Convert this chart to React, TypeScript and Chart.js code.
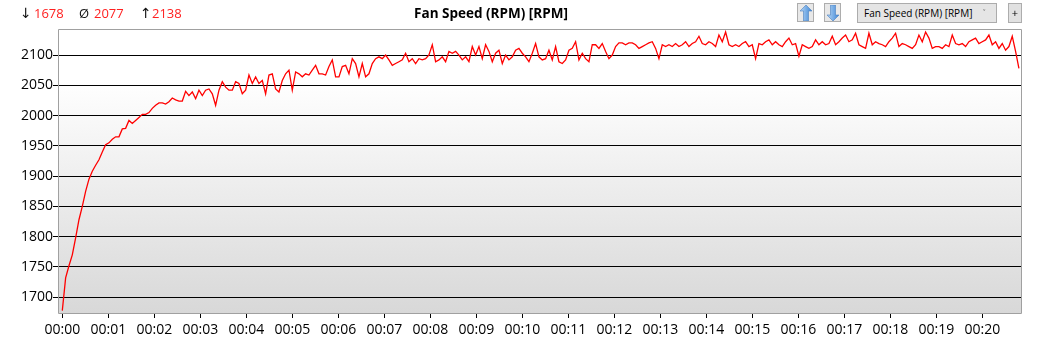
import React, { useEffect, useRef } from "react";
import { Chart, registerables } from "chart.js";

Chart.register(...registerables);

// time between two readings, in minutes
const SAMPLE_MINUTES = 0.07246;

const FAN_RPM: number[] = [
  // 00:00 - 00:02.7
  1678, 1732, 1752, 1770, 1798, 1828, 1850, 1875, 1895, 1908, 1918, 1927, 1940, 1952, 1955, 1961, 1965, 1965, 1978, 1979,
  1992, 1987, 1992, 1997, 2002, 2002, 2005, 2012, 2017, 2021, 2021, 2019, 2023, 2029, 2026, 2024, 2024, 2040,
  // 00:02.7 - 00:06.8
  2033, 2039, 2028, 2042, 2033, 2042, 2044, 2036, 2017, 2042, 2056, 2047, 2042, 2042, 2056, 2053, 2036, 2042, 2067, 2053,
  2064, 2053, 2058, 2036, 2067, 2069, 2044, 2039, 2058, 2069, 2075, 2042, 2072, 2069, 2064, 2069, 2067, 2075, 2083, 2069,
  2069, 2067, 2081, 2092, 2064, 2064, 2081, 2083, 2069, 2094, 2086, 2064, 2086, 2064, 2069, 2086, 2094,
  // 00:06.9 - 00:11.4
  2097, 2094, 2100, 2092, 2083, 2086, 2089, 2092, 2103, 2089, 2094, 2086, 2094, 2092, 2094, 2100, 2117, 2089, 2092, 2097,
  2089, 2106, 2103, 2106, 2100, 2092, 2097, 2089, 2114, 2100, 2114, 2094, 2117, 2106, 2089, 2103, 2108, 2086, 2100, 2092,
  2097, 2108, 2111, 2103, 2097, 2089, 2103, 2119, 2097, 2092, 2094, 2108, 2092, 2114, 2089, 2086, 2092, 2108, 2111, 2122,
  2092, 2103, 2094,
  // 00:11.4 - 00:16.0
  2089, 2117, 2117, 2111, 2119, 2106, 2094, 2100, 2114, 2120, 2120, 2117, 2120, 2120, 2117, 2111, 2114, 2117, 2120, 2122,
  2111, 2094, 2117, 2114, 2117, 2114, 2119, 2114, 2117, 2122, 2114, 2119, 2122, 2131, 2119, 2117, 2122, 2119, 2114, 2133,
  2122, 2138, 2117, 2114, 2117, 2114, 2119, 2122, 2114, 2117, 2094, 2119, 2117, 2122, 2125, 2117, 2122, 2117, 2114, 2122,
  2128, 2117, 2119, 2098,
  // 00:16.1 - 00:20.8
  2117, 2114, 2111, 2114, 2125, 2117, 2122, 2117, 2119, 2131, 2117, 2122, 2128, 2133, 2122, 2125, 2136, 2117, 2114, 2111,
  2136, 2117, 2122, 2119, 2117, 2114, 2122, 2128, 2136, 2114, 2119, 2117, 2114, 2111, 2117, 2133, 2122, 2138, 2128, 2111,
  2114, 2114, 2111, 2117, 2114, 2133, 2119, 2117, 2119, 2114, 2122, 2125, 2128, 2119, 2122, 2125, 2133, 2117, 2122, 2111,
  2119, 2108, 2114, 2131, 2106, 2078,
];

const Y_TICKS = [1700, 1750, 1800, 1850, 1900, 1950, 2000, 2050, 2100];
const X_TICKS = [0, 1, 2, 3, 4, 5, 6, 7, 8, 9, 10, 11, 12, 13, 14, 15, 16, 17, 18, 19, 20];
const Y_MIN = 1674;
const Y_MAX = 2143;
const X_MIN = -0.0935;
const X_MAX = 20.863;

const TITLE = "Fan Speed (RPM) [RPM]";
const STAT_SYMBOLS = ["↓", "Ø", "↑"];
const STAT_VALUES = [1678, 2077, 2138];

const FONT = "'Open Sans', 'Noto Sans', sans-serif";

const framePlugin = {
  id: "frame",
  beforeDraw(chart: any) {
    const { ctx, chartArea: a } = chart;
    const g = ctx.createLinearGradient(0, a.top, 0, a.bottom);
    g.addColorStop(0, "#ffffff");
    g.addColorStop(0.18, "#ffffff");
    g.addColorStop(1, "#d8d8d8");
    ctx.save();
    ctx.fillStyle = g;
    ctx.fillRect(a.left, a.top, a.right - a.left, a.bottom - a.top);
    ctx.restore();
  },
  afterDraw(chart: any) {
    const { ctx, chartArea: a } = chart;
    ctx.save();
    ctx.strokeStyle = "#a0a0a0";
    ctx.lineWidth = 1;
    ctx.beginPath();
    ctx.moveTo(a.left + 0.5, a.top + 0.5);
    ctx.lineTo(a.right - 0.5, a.top + 0.5);
    ctx.lineTo(a.right - 0.5, a.bottom + 0.5);
    ctx.lineTo(a.left + 0.5, a.bottom + 0.5);
    ctx.closePath();
    ctx.stroke();
    ctx.restore();
  },
};

function ArrowIcon({ up }: { up: boolean }) {
  const id = up ? "gu" : "gd";
  return (
    <svg width="12" height="16" viewBox="0 0 12 16" style={{ display: "block" }}>
      <defs>
        <linearGradient id={id} x1="0" y1="0" x2="1" y2="0">
          <stop offset="0" stopColor="#b9d8f6" />
          <stop offset="1" stopColor="#3d86d6" />
        </linearGradient>
      </defs>
      <path
        d={up ? "M6 0 L12 6 L8.5 6 L8.5 16 L3.5 16 L3.5 6 L0 6 Z" : "M6 16 L12 10 L8.5 10 L8.5 0 L3.5 0 L3.5 10 L0 10 Z"}
        fill={`url(#${id})`}
        stroke="#4a7fc0"
        strokeWidth="0.6"
      />
    </svg>
  );
}

export default function App() {
  const canvasRef = useRef<HTMLCanvasElement | null>(null);

  useEffect(() => {
    const points = FAN_RPM.map((v, i) => ({ x: i * SAMPLE_MINUTES, y: v }));
    const chart = new Chart(canvasRef.current as HTMLCanvasElement, {
      type: "line",
      data: {
        datasets: [
          {
            data: points,
            borderColor: "#ff0000",
            borderWidth: 1.3,
            pointRadius: 0,
            tension: 0,
            fill: false,
          },
        ],
      },
      options: {
        animation: false,
        responsive: false,
        maintainAspectRatio: false,
        layout: { padding: { top: 29, right: 19, left: 0, bottom: 0 } },
        plugins: { legend: { display: false }, tooltip: { enabled: false }, title: { display: false } },
        scales: {
          x: {
            type: "linear",
            min: X_MIN,
            max: X_MAX,
            afterBuildTicks: (axis: any) => {
              axis.ticks = X_TICKS.map((v) => ({ value: v }));
            },
            afterFit: (scale: any) => {
              scale.height = 40;
            },
            grid: { drawOnChartArea: false, drawTicks: true, tickLength: 5, tickColor: "#000000", color: "#000000" },
            border: { display: false },
            ticks: {
              autoSkip: false,
              maxRotation: 0,
              padding: 4,
              color: "#000000",
              font: { family: FONT, size: 14 },
              callback: (v: any) => "00:" + String(v).padStart(2, "0"),
            },
          },
          y: {
            type: "linear",
            min: Y_MIN,
            max: Y_MAX,
            afterBuildTicks: (axis: any) => {
              axis.ticks = Y_TICKS.map((v) => ({ value: v }));
            },
            afterFit: (scale: any) => {
              scale.width = 58;
            },
            grid: { drawOnChartArea: true, drawTicks: true, tickLength: 5, tickColor: "#000000", color: "#000000", lineWidth: 1 },
            border: { display: false },
            ticks: {
              padding: 0,
              color: "#000000",
              font: { family: FONT, size: 14 },
              callback: (v: any) => String(v),
            },
          },
        },
      },
      plugins: [framePlugin],
    });
    return () => chart.destroy();
  }, []);

  const statLefts = [[20, 34], [79, 94], [140, 152]];

  return (
    <div style={{ position: "absolute", left: 0, top: 0, width: 1041, height: 353, background: "#ffffff", fontFamily: FONT }}>
      <canvas ref={canvasRef} width={1041} height={353} style={{ position: "absolute", left: 0, top: 0, width: 1041, height: 353 }} />
      {STAT_SYMBOLS.map((s, i) => (
        <React.Fragment key={s}>
          <span style={{ position: "absolute", left: statLefts[i][0], top: 4, fontSize: i === 1 ? 13 : 14, lineHeight: "18px", color: "#111", fontFamily: i === 1 ? FONT : "'DejaVu Sans', sans-serif" }}>{s}</span>
          <span style={{ position: "absolute", left: statLefts[i][1], top: 4, fontSize: 13, lineHeight: "18px", color: "#ff2020" }}>
            {STAT_VALUES[i]}
          </span>
        </React.Fragment>
      ))}
      <div style={{ position: "absolute", left: 341, width: 300, top: 4, textAlign: "center", fontSize: 13.5, fontWeight: 700, lineHeight: "18px", color: "#000" }}>
        {TITLE}
      </div>
      <div style={{ position: "absolute", left: 797, top: 3, width: 17, height: 19, boxSizing: "border-box", border: "1px solid #adadad", background: "#e8e8e8", display: "flex", alignItems: "center", justifyContent: "center" }}>
        <ArrowIcon up={true} />
      </div>
      <div style={{ position: "absolute", left: 824, top: 3, width: 17, height: 19, boxSizing: "border-box", border: "1px solid #adadad", background: "#e8e8e8", display: "flex", alignItems: "center", justifyContent: "center" }}>
        <ArrowIcon up={false} />
      </div>
      <div style={{ position: "absolute", left: 857, top: 3, width: 140, height: 20, boxSizing: "border-box", border: "1px solid #acacac", background: "#e5e5e5", fontSize: 10, lineHeight: "18px", paddingLeft: 6, color: "#000", whiteSpace: "nowrap" }}>
        {TITLE}
        <span style={{ position: "absolute", left: 125, top: 0, fontSize: 9, color: "#555" }}>˅</span>
      </div>
      <div style={{ position: "absolute", left: 1008, top: 3, width: 14, height: 20, boxSizing: "border-box", border: "1px solid #adadad", background: "#e1e1e1", fontSize: 11, lineHeight: "17px", textAlign: "center", color: "#000" }}>
        +
      </div>
    </div>
  );
}
